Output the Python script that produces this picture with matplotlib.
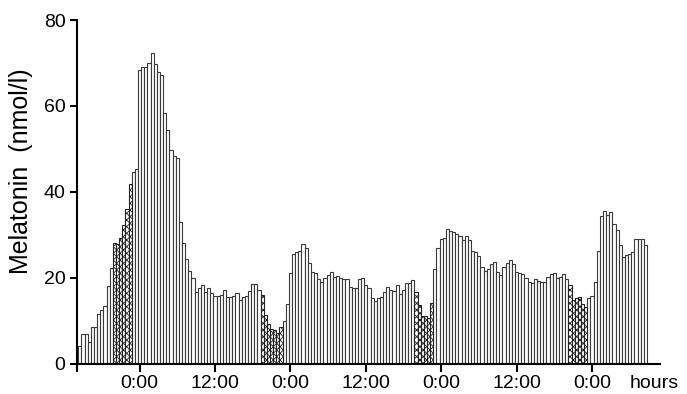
import numpy as np
import matplotlib
matplotlib.use("Agg")
import matplotlib.pyplot as plt

plt.rcParams['font.family'] = ['Liberation Sans', 'DejaVu Sans']
plt.rcParams['hatch.linewidth'] = 0.6

# half-hourly melatonin samples (nmol/l), first bar centred at 14:30
day1 = [4.1, 6.8, 6.8, 4.9, 8.4, 8.4, 11.5, 12.4, 13.4, 18.1, 22.2, 28.0,
        27.8, 29.3, 32.2, 35.9, 41.9, 44.7, 45.4, 68.4, 69.0, 69.0, 70.0, 72.3,
        69.8, 67.9, 67.3, 58.4, 54.3, 49.8, 48.3, 47.9, 33.0, 28.1, 24.3, 21.6,
        19.8, 16.7, 17.7, 18.4, 16.7, 17.7, 16.5, 15.7, 15.7, 15.9, 17.2, 15.5]
day2 = [15.5, 15.7, 16.5, 14.9, 15.4, 15.7, 16.9, 18.6, 18.5, 17.1, 15.9, 11.3,
        9.3, 8.0, 7.8, 7.0, 8.6, 10.0, 13.8, 21.1, 25.5, 26.0, 26.2, 27.8,
        27.0, 23.4, 21.4, 21.0, 19.6, 19.0, 19.8, 20.6, 21.4, 20.2, 20.3, 20.0,
        19.6, 19.6, 17.9, 17.7, 17.7, 19.6, 19.8, 18.3, 17.5, 15.2, 14.6, 15.2]
day3 = [15.4, 16.7, 17.9, 17.1, 16.9, 18.3, 16.2, 17.1, 18.8, 18.8, 19.4, 16.7,
        13.6, 11.0, 11.0, 10.5, 14.1, 22.1, 27.0, 28.9, 29.3, 31.4, 30.9, 30.7,
        30.1, 29.6, 28.7, 29.6, 28.7, 26.2, 26.0, 25.0, 22.5, 21.6, 22.1, 23.1,
        23.7, 21.4, 20.6, 22.5, 23.3, 24.1, 23.1, 21.4, 21.1, 20.8, 20.0, 19.0]
day4 = [18.8, 19.7, 19.3, 19.0, 19.0, 20.2, 20.8, 21.1, 19.8, 20.2, 20.8, 19.6,
        18.2, 14.9, 15.2, 15.4, 13.8, 13.1, 15.2, 15.7, 19.0, 26.2, 34.3, 35.5,
        34.5, 35.3, 32.4, 31.0, 27.6, 24.7, 25.2, 25.5, 26.0, 28.9, 29.1, 28.9,
        27.6]

# evening samples taken under dim light (first, last bar index)
dim_periods = [(11, 16), (58, 64), (107, 112), (156, 161)]

tick_pos = [-10, 0, 12, 24, 36, 48, 60, 72]
tick_labels = ['', '0:00', '12:00', '0:00', '12:00', '0:00', '12:00', '0:00']

values = np.array(day1 + day2 + day3 + day4)
hours = -9.5 + 0.5 * np.arange(len(values))
dim = np.zeros(len(values), dtype=bool)
for a, b in dim_periods:
    dim[a:b + 1] = True

fig = plt.figure(figsize=(6.87, 3.94), dpi=100)
ax = fig.add_axes([0.1116, 0.0774, 0.849, 0.8718])

ax.bar(hours[~dim], values[~dim], width=0.5, color='white',
       edgecolor='#3a3a3a', linewidth=0.8)
ax.bar(hours[dim], values[dim], width=0.5, color='white',
       edgecolor='#222222', linewidth=0.8, hatch='xxxxx')

ax.set_xlim(-10, 82.8)
ax.set_ylim(0, 80)
ax.set_yticks([0, 20, 40, 60, 80])
ax.set_xticks(tick_pos)
ax.set_xticklabels(tick_labels)

for side in ['top', 'right']:
    ax.spines[side].set_visible(False)
for side in ['left', 'bottom']:
    ax.spines[side].set_linewidth(1.5)
ax.tick_params(axis='y', length=5, width=1.5, labelsize=14, pad=3)
ax.tick_params(axis='x', length=6, width=1.5, labelsize=14, pad=2)

ax.text(78.0, -0.033, 'hours', transform=ax.get_xaxis_transform(),
        ha='left', va='top', fontsize=14)
fig.text(0.031, 0.566, 'Melatonin  (nmol/l)', rotation=90,
         ha='center', va='center', fontsize=18)

fig.savefig('out.png', dpi=100)
